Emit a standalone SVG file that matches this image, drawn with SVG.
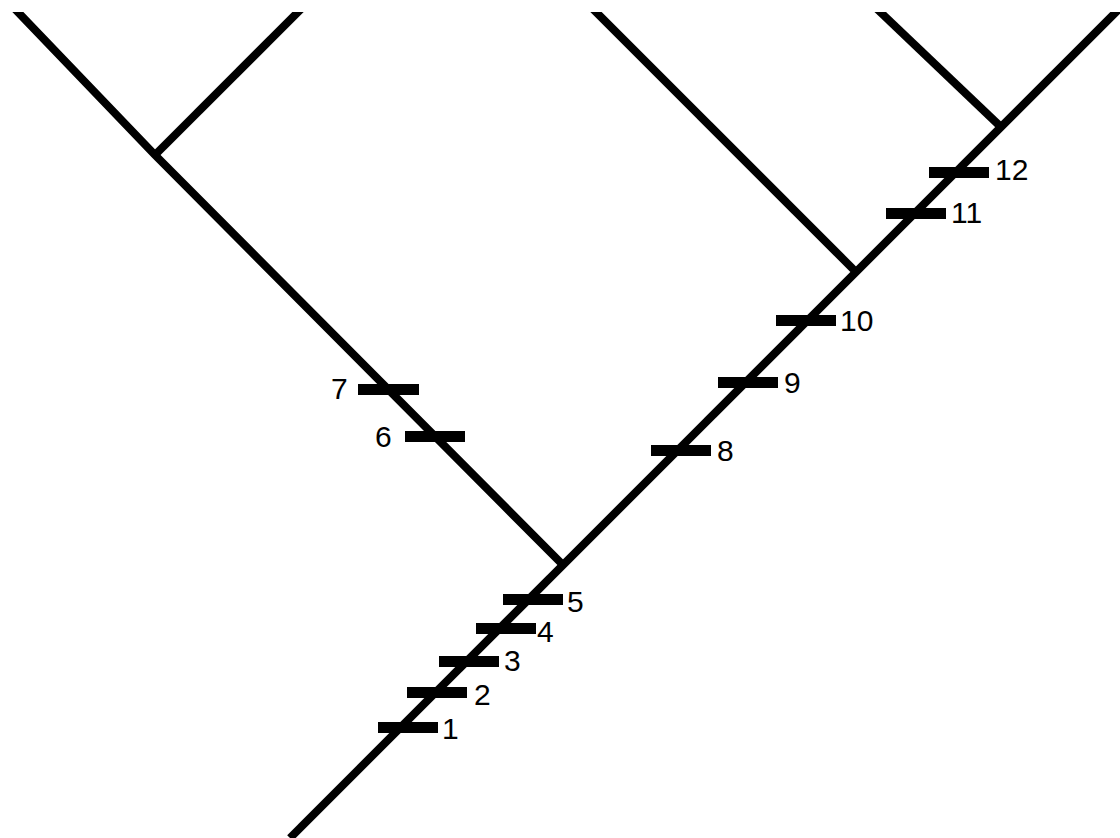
<svg xmlns="http://www.w3.org/2000/svg" width="1120" height="838" viewBox="0 0 1120 838">
<defs>
<style>
.br{stroke:#000;stroke-width:8;fill:none;stroke-linecap:butt;stroke-linejoin:miter}
.tk{fill:#000}
.lb{font-family:"Liberation Sans",Arial,sans-serif;font-size:30px;fill:#000}
</style>
<clipPath id="c"><rect x="0" y="12" width="1120" height="826"/></clipPath>
</defs>
<rect width="1120" height="838" fill="#fff"/>
<g id="connectors" clip-path="url(#c)">
<line class="br" x1="290" y1="838" x2="1130" y2="-2"/>
<polyline class="br" points="563,565 155,155 14,8"/>
<line class="br" x1="155" y1="155" x2="303" y2="7"/>
<line class="br" x1="856" y1="272" x2="591" y2="7"/>
<line class="br" x1="1002" y1="128" x2="875" y2="7"/>
</g>
<g id="tick1"><rect class="tk" x="378" y="722" width="60" height="11"/><text class="lb" x="442" y="739">1</text></g>
<g id="tick2"><rect class="tk" x="407" y="687" width="60" height="11"/><text class="lb" x="474" y="705">2</text></g>
<g id="tick3"><rect class="tk" x="439" y="656" width="60" height="11"/><text class="lb" x="504" y="671">3</text></g>
<g id="tick4"><rect class="tk" x="476" y="623" width="60" height="11"/><text class="lb" x="537" y="642">4</text></g>
<g id="tick5"><rect class="tk" x="503" y="594" width="60" height="11"/><text class="lb" x="567" y="612">5</text></g>
<g id="tick6"><rect class="tk" x="405" y="431" width="60" height="11"/><text class="lb" x="375" y="447">6</text></g>
<g id="tick7"><rect class="tk" x="358" y="384" width="61" height="11"/><text class="lb" x="331" y="399">7</text></g>
<g id="tick8"><rect class="tk" x="651" y="445" width="60" height="11"/><text class="lb" x="717" y="461">8</text></g>
<g id="tick9"><rect class="tk" x="718" y="377" width="60" height="11"/><text class="lb" x="784" y="393">9</text></g>
<g id="tick10"><rect class="tk" x="776" y="315" width="60" height="11"/><text class="lb" x="840" y="331">10</text></g>
<g id="tick11"><rect class="tk" x="886" y="208" width="60" height="11"/><text class="lb" x="951" y="223">11</text></g>
<g id="tick12"><rect class="tk" x="929" y="167" width="60" height="11"/><text class="lb" x="995" y="180">12</text></g>
</svg>
